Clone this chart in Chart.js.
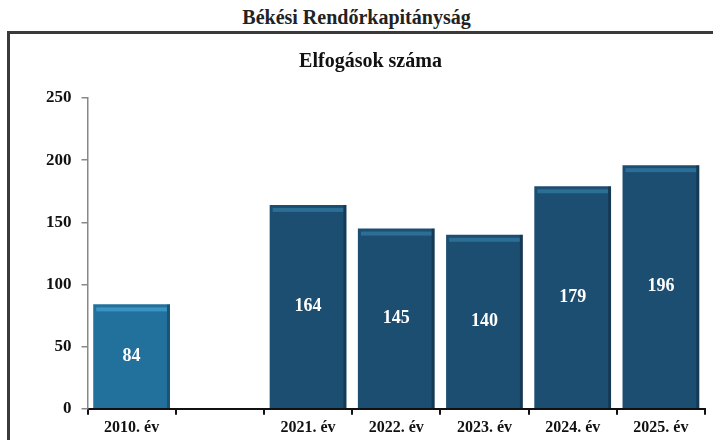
<!DOCTYPE html>
<html>
<head>
<meta charset="utf-8">
<script src="https://cdn.jsdelivr.net/npm/chart.js@4"></script>
<style>
    body { margin: 0; background: #fff; width: 713px; height: 440px; overflow: hidden; position: relative; }
    #mainTitle {
        position: absolute; left: 0; top: 6px; width: 713px; text-align: center;
        font: bold 20px "Liberation Serif", serif; color: #222;
    }
    #frame {
        position: absolute; left: 7px; top: 31px; width: 710px; height: 420px;
        border: 3px solid #3a3a3a; box-sizing: border-box;
    }
    #chartBox { position: absolute; left: 10px; top: 34px; width: 703px; height: 406px; }
</style>
</head>
<body>
<div id="mainTitle">Békési Rendőrkapitányság</div>
<div id="frame"></div>
<div id="chartBox"><canvas id="chart"></canvas></div>
<script>
let categories = ['2010. év', '', '2021. év', '2022. év', '2023. év', '2024. év', '2025. év'];
let values = [84, null, 164, 145, 140, 179, 196];
let barColors = ['#22709c', '#1c4e72', '#1c4e72', '#1c4e72', '#1c4e72', '#1c4e72', '#1c4e72'];
let highlightColors = ['#3b93c4', '#2b6f97', '#2b6f97', '#2b6f97', '#2b6f97', '#2b6f97', '#2b6f97'];
let yTicks = [0, 50, 100, 150, 200, 250];

// draws the light strip near the top of every bar and the value inside it
const barDecor = {
    id: 'barDecor',
    afterDatasetsDraw(chart) {
        let ctx = chart.ctx;
        let meta = chart.getDatasetMeta(0);
        meta.data.forEach(function(bar, i) {
            if (values[i] == null) return;
            let left = bar.x - bar.width / 2;
            ctx.save();
            ctx.fillStyle = highlightColors[i];
            ctx.fillRect(left + 3, bar.y + 3, bar.width - 6, 4);
            ctx.fillStyle = 'rgba(0,0,0,0.25)';
            ctx.fillRect(left + bar.width - 3, bar.y, 3, bar.base - bar.y);
            ctx.fillStyle = '#ffffff';
            ctx.font = 'bold 18px "Liberation Serif", serif';
            ctx.textAlign = 'center';
            ctx.textBaseline = 'middle';
            ctx.fillText(String(values[i]), bar.x, (bar.y + bar.base) / 2);
            ctx.restore();
        });
    }
};

new Chart(document.getElementById('chart'), {
    type: 'bar',
    data: {
        labels: categories,
        datasets: [{
            data: values,
            backgroundColor: barColors,
            borderWidth: 0,
            barPercentage: 0.87,
            categoryPercentage: 1.0
        }]
    },
    options: {
        responsive: true,
        maintainAspectRatio: false,
        animation: false,
        layout: { padding: { top: 6, right: 8, bottom: 0, left: 26 } },
        plugins: {
            legend: { display: false },
            tooltip: { enabled: false },
            title: {
                display: true,
                text: 'Elfogások száma',
                color: '#111',
                font: { family: '"Liberation Serif", serif', size: 20, weight: 'bold' },
                padding: { top: 10, bottom: 24 }
            }
        },
        scales: {
            x: {
                grid: { drawOnChartArea: false, tickLength: 6, color: '#111', lineWidth: 2, offset: true },
                border: { color: '#111', width: 2 },
                ticks: {
                    color: '#111',
                    padding: 3,
                    font: { family: '"Liberation Serif", serif', size: 16, weight: 'bold' }
                }
            },
            y: {
                min: 0,
                max: 250,
                afterBuildTicks: function(axis) {
                    axis.ticks = yTicks.map(function(v) { return { value: v }; });
                },
                grid: { drawOnChartArea: false, tickLength: 6, color: '#888', lineWidth: 1.5 },
                border: { color: '#888', width: 1.5 },
                ticks: {
                    color: '#111',
                    padding: 10,
                    font: { family: '"Liberation Serif", serif', size: 17, weight: 'bold' }
                }
            }
        }
    },
    plugins: [barDecor]
});
</script>
</body>
</html>
